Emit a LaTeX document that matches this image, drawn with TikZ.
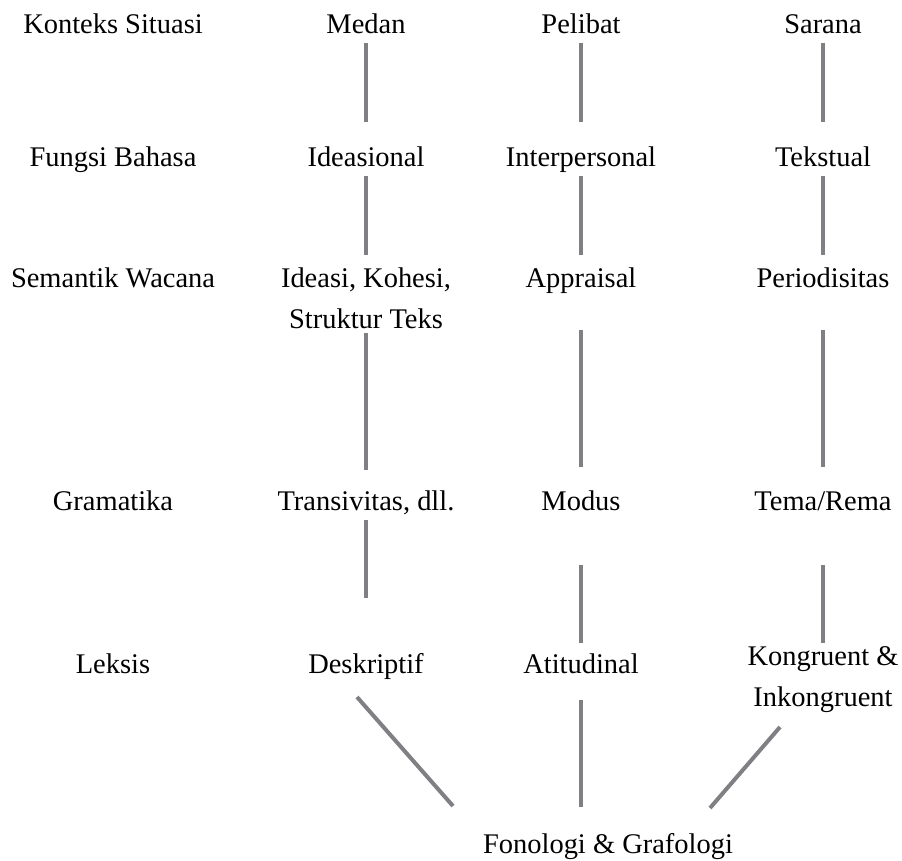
\documentclass[tikz,border=0pt]{standalone}
\usepackage{fontspec}
\setmainfont{Liberation Serif}
\usetikzlibrary{calc}

\definecolor{bargray}{RGB}{128,128,132}

\begin{document}
\begin{tikzpicture}[x=0.02cm,y=-0.02cm,
    lbl/.style={anchor=base,inner sep=0pt,align=center,
      font=\fontsize{16.2}{23.2}\selectfont},
    bar/.style={draw=bargray,line width=0.08cm}]
  \useasboundingbox (0,0) rectangle (902,860);

  % row labels
  \node[lbl] (konteks) at (113,33) {Konteks Situasi};
  \node[lbl] (fungsi) at (113,166) {Fungsi Bahasa};
  \node[lbl] (semantik) at (113,287) {Semantik Wacana};
  \node[lbl] (gramatika) at (113,510) {Gramatika};
  \node[lbl] (leksis) at (113,673) {Leksis};

  % medan
  \node[lbl] (medan) at (366,33) {Medan};
  \node[lbl] (ideas) at (366,166) {Ideasional};
  \node[lbl] (kohesi) at (366,328) {Ideasi, Kohesi,\\Struktur Teks};
  \node[lbl] (transiv) at (366,510) {Transivitas, dll.};
  \node[lbl] (deskr) at (366,673) {Deskriptif};

  % pelibat
  \node[lbl] (pelibat) at (581,33) {Pelibat};
  \node[lbl] (interp) at (581,166) {Interpersonal};
  \node[lbl] (apprais) at (581,287) {Appraisal};
  \node[lbl] (modus) at (581,510) {Modus};
  \node[lbl] (atitud) at (581,673) {Atitudinal};

  % sarana
  \node[lbl] (sarana) at (823,33) {Sarana};
  \node[lbl] (tekst) at (823,166) {Tekstual};
  \node[lbl] (period) at (823,287) {Periodisitas};
  \node[lbl] (tema) at (823,510) {Tema/Rema};
  \node[lbl] (kongr) at (823,706) {Kongruent \&\\Inkongruent};

  \node[lbl] (fonologi) at (608,853) {Fonologi \& Grafologi};

  % medan column
  \draw[bar] ($(medan.base)+(0,10)$) -- ($(ideas.base)+(0,-44)$);
  \draw[bar] ($(ideas.base)+(0,10)$) -- ($(kohesi.base)+(0,-73)$);
  \draw[bar] ($(kohesi.base)+(0,5)$) -- ($(transiv.base)+(0,-40)$);
  \draw[bar] ($(transiv.base)+(0,10)$) -- ($(deskr.base)+(0,-75)$);
  \draw[bar] ($(deskr.base)+(-9,24)$) -- ($(fonologi.base)+(-155,-47)$);

  % pelibat column
  \draw[bar] ($(pelibat.base)+(0,10)$) -- ($(interp.base)+(0,-44)$);
  \draw[bar] ($(interp.base)+(0,10)$) -- ($(apprais.base)+(0,-32)$);
  \draw[bar] ($(apprais.base)+(0,43)$) -- ($(modus.base)+(0,-43)$);
  \draw[bar] ($(modus.base)+(0,55)$) -- ($(atitud.base)+(0,-30)$);
  \draw[bar] ($(atitud.base)+(0,27)$) -- ($(fonologi.base)+(-27,-46)$);

  % sarana column
  \draw[bar] ($(sarana.base)+(0,10)$) -- ($(tekst.base)+(0,-44)$);
  \draw[bar] ($(tekst.base)+(0,10)$) -- ($(period.base)+(0,-32)$);
  \draw[bar] ($(period.base)+(0,43)$) -- ($(tema.base)+(0,-43)$);
  \draw[bar] ($(tema.base)+(0,55)$) -- ($(kongr.base)+(0,-63)$);
  \draw[bar] ($(kongr.base)+(-43,21)$) -- ($(fonologi.base)+(102,-45)$);
\end{tikzpicture}
\end{document}
